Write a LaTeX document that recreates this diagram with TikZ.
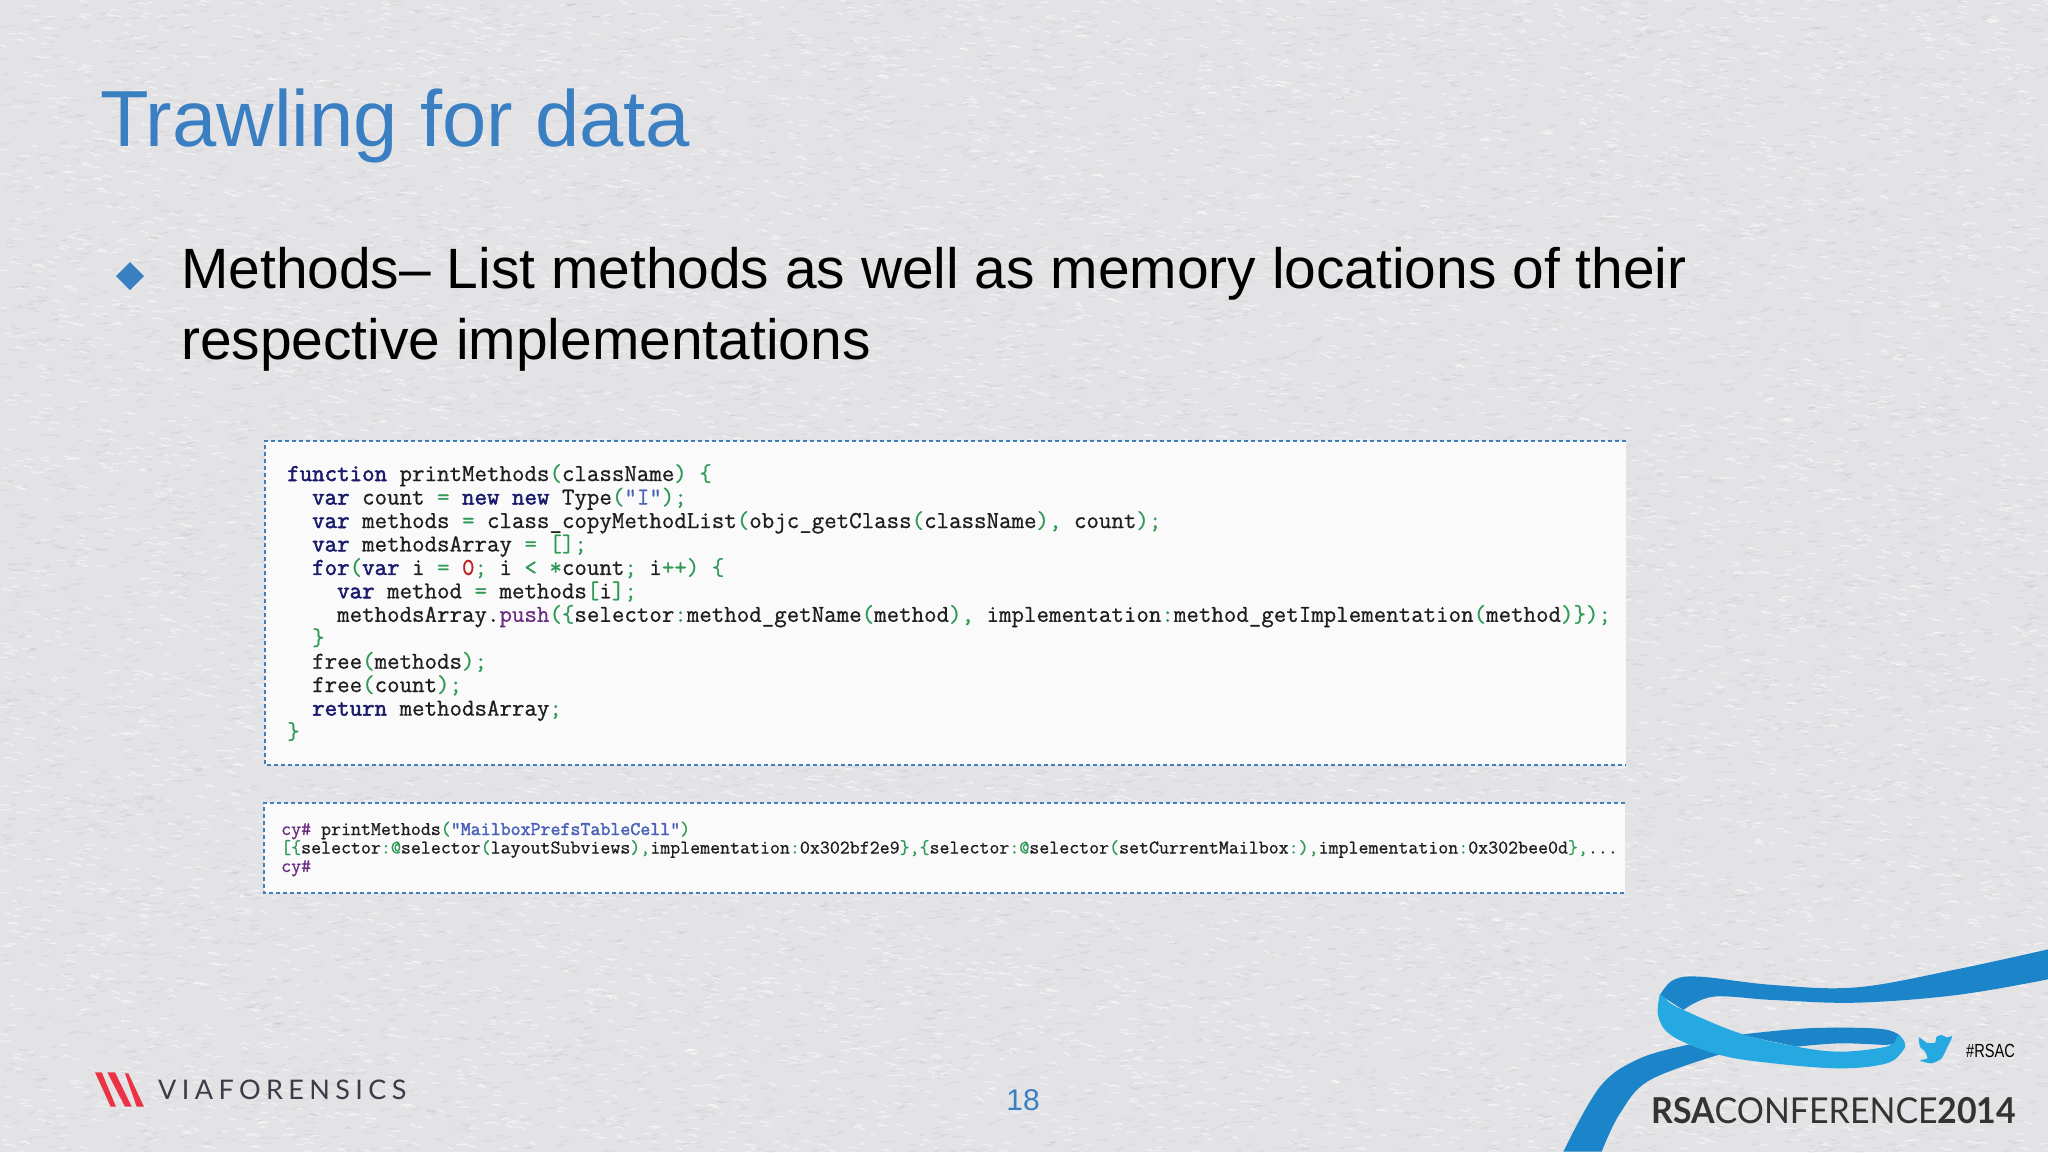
\documentclass[tikz,border=0pt]{standalone}
\usepackage{fontspec}
\setmainfont{Liberation Sans}
\newfontfamily\coderm{Latin Modern Mono}[FakeBold=0.8]
\newfontfamily\codebf{Latin Modern Mono}[FakeBold=2.0]
\newfontfamily\lato{Lato}
\newfontfamily\latospaced{Lato}[LetterSpace=20]
\definecolor{paper}{HTML}{E3E3E6}
\definecolor{titleblue}{HTML}{3A7FC1}
\definecolor{dashblue}{HTML}{3F7FBC}
\definecolor{boxfill}{HTML}{FBFAFB}
\definecolor{ribdark}{HTML}{1C84C8}
\definecolor{riblight}{HTML}{25A9E0}
\definecolor{kwcol}{HTML}{1B1B6B}
\definecolor{idcol}{HTML}{1E1E1E}
\definecolor{grn}{HTML}{2E9A55}
\definecolor{strcol}{HTML}{4A62B8}
\definecolor{purp}{HTML}{6A2A80}
\definecolor{numcol}{HTML}{C02020}
\definecolor{logored}{HTML}{EC3344}
\definecolor{logogray}{HTML}{3A3D48}
\newcommand{\K}[1]{{\codebf\color{kwcol}#1}}
\newcommand{\G}[1]{{\color{grn}#1}}
\newcommand{\Q}[1]{{\color{strcol}#1}}
\newcommand{\Pu}[1]{{\color{purp}#1}}
\newcommand{\Nn}[1]{{\color{numcol}#1}}
\tikzset{
  x=1pt,y=-1pt,
  codebig/.style={anchor=base west,inner sep=0pt,text=idcol,font=\coderm\fontsize{24.25}{24}\selectfont},
  codesmall/.style={anchor=base west,inner sep=0pt,text=idcol,font=\coderm\fontsize{19.37}{20}\selectfont},
  codebox/.style={fill=boxfill,draw=none},
  dashline/.style={draw=dashblue,line width=1.4pt,dash pattern=on 4pt off 3pt},
  bodytext/.style={anchor=base west,inner sep=0pt,text=black,font=\fontsize{56.9}{60}\selectfont},
}
\begin{document}
\begin{tikzpicture}
\useasboundingbox (0,0) rectangle (2048,1152);
\fill[paper] (0,0) rectangle (2048,1152);
% paper grain
\pgfmathsetseed{7}
\begin{scope}
\clip (0,0) rectangle (2048,1152);
\foreach \j in {1,...,20}{
\draw[white,opacity=.45,line width=1.3pt,line cap=round]
  \foreach \i in {1,...,500}{ ({rnd*2048},{rnd*1152}) .. controls +(2,-2) and +(4,1) .. +({3+rnd*5},{(rnd-.5)*3}) };
\draw[black!60,opacity=.07,line width=1.3pt,line cap=round]
  \foreach \i in {1,...,500}{ ({rnd*2048},{rnd*1152}) .. controls +(2,2) and +(4,-1) .. +({3+rnd*5},{(rnd-.5)*3}) };
}
\end{scope}

% title and bullet
\node[anchor=base west,inner sep=0pt,text=titleblue,font=\fontsize{79.6}{80}\selectfont] (title) at (100,146) {Trawling for data};
\fill[titleblue] (116,276) -- (130,262) -- (144,276) -- (130,290) -- cycle;
\node[bodytext] (bodya) at (181,288) {Methods– List methods as well as memory locations of their};
\node[bodytext] (bodyb) at (181,359) {respective implementations};

% first code box
\fill[codebox] (265,441) rectangle (1626,765);
\draw[dashline] (1626,441) -- (265,441) -- (265,765) -- (1626,765);
\node[codebig] (a1) at (287,481) {\K{function} printMethods\G{(}className\G{)} \G{\{}};
\node[codebig] (a2) at (287,504.5) {\ \ \K{var} count \G{=} \K{new} \K{new} Type\G{(}\Q{"I"}\G{);}};
\node[codebig] (a3) at (287,528) {\ \ \K{var} methods \G{=} class\_copyMethodList\G{(}objc\_getClass\G{(}className\G{),} count\G{);}};
\node[codebig] (a4) at (287,551.4) {\ \ \K{var} methodsArray \G{=} \G{[];}};
\node[codebig] (a5) at (287,574.9) {\ \ \K{for}\G{(}\K{var} i \G{=} \Nn{0}\G{;} i \G{<} \G{*}count\G{;} i\G{++)} \G{\{}};
\node[codebig] (a6) at (287,598.3) {\ \ \ \ \K{var} method \G{=} methods\G{[}i\G{];}};
\node[codebig] (a7) at (287,621.8) {\ \ \ \ methodsArray.\Pu{push}\G{(\{}selector\G{:}method\_getName\G{(}method\G{),} implementation\G{:}method\_getImplementation\G{(}method\G{)\});}};
\node[codebig] (a8) at (287,645.2) {\ \ \G{\}}};
\node[codebig] (a9) at (287,668.7) {\ \ free\G{(}methods\G{);}};
\node[codebig] (a10) at (287,692.1) {\ \ free\G{(}count\G{);}};
\node[codebig] (a11) at (287,715.6) {\ \ \K{return} methodsArray\G{;}};
\node[codebig] (a12) at (287,739) {\G{\}}};

% second code box
\fill[codebox] (264,803) rectangle (1625,893);
\draw[dashline] (1625,803) -- (264,803) -- (264,893) -- (1625,893);
\node[codesmall] (b1) at (281,835) {\Pu{cy\#} printMethods\G{(}{\codebf\color{strcol}"MailboxPrefsTableCell"}\G{)}};
\node[codesmall] (b2) at (281,853.5) {\G{[\{}selector\G{:@}selector\G{(}layoutSubviews\G{),}implementation\G{:}0x302bf2e9\G{\},\{}selector\G{:@}selector\G{(}setCurrentMailbox\G{:),}implementation\G{:}0x302bee0d\G{\},}...};
\node[codesmall] (b3) at (281,872) {\Pu{cy\#}};

% footer
\fill[logored] (95,1072.3) -- (101.7,1072.3) -- (116,1106.7) -- (110.7,1106.7) -- cycle;
\fill[logored] (107.3,1072.3) -- (115,1072.3) -- (131.7,1106.7) -- (125,1106.7) -- cycle;
\fill[logored] (125,1073.3) -- (128.3,1073.3) -- (144,1106.7) -- (136.7,1106.7) -- cycle;
\node[anchor=base west,inner sep=0pt,text=logogray,font=\latospaced\fontsize{27}{28}\selectfont] (via) at (158,1099) {VIAFORENSICS};
\node[anchor=base,inner sep=0pt,text=titleblue,font=\fontsize{30}{30}\selectfont] (page) at (1023,1110) {18};

% ribbon
\begin{scope}[shift={(1540,930)},x=0.33333pt,y=-0.33333pt]
\fill[ribdark] plot[smooth,tension=.6] coordinates {(455,342) (300,385) (180,470) (70,665)} -- plot[smooth,tension=.6] coordinates {(185,665) (240,550) (330,450) (550,370)} -- cycle;
\fill[ribdark] plot[smooth,tension=.6] coordinates {(600,314) (800,295) (1000,295) (1070,310) (1090,340)} -- plot[smooth,tension=.6] coordinates {(1035,345) (900,340) (770,350)} -- cycle;
\fill[ribdark] plot[smooth,tension=.6] coordinates {(1524,58) (1240,120) (950,172) (700,165) (480,140) (400,150) (360,195)} -- plot[smooth,tension=.6] coordinates {(430,240) (520,200) (700,210) (950,218) (1250,195) (1524,148)} -- cycle;
\fill[riblight] plot[smooth,tension=.6] coordinates {(360,190) (355,260) (400,320) (540,375) (700,400) (900,415) (1040,400) (1090,360) (1093,335) (1075,312)} -- plot[smooth,tension=.6] coordinates {(1065,335) (1030,352) (900,365) (770,350) (600,310) (430,240) (385,215)} -- cycle;
% bird
\fill[riblight,line join=round] plot[smooth,tension=.35] coordinates {(1236,318) (1220,322) (1205,315) (1190,320) (1185,338) (1160,338) (1137,322) (1140,350) (1155,365) (1162,385) (1140,392) (1175,400) (1205,385) (1225,345) (1234,328)} -- cycle;
\end{scope}
\node[anchor=base west,inner sep=0pt,text=black,font=\fontsize{19}{19}\selectfont] (tag) at (1966,1057) {\scalebox{0.77}[1]{\#RSAC}};
\node[anchor=base west,inner sep=0pt,text=black!80,font=\lato\fontsize{35.7}{36}\selectfont] (conf) at (1651,1123) {\scalebox{0.95}[1]{{\bfseries RSA}CONFERENCE{\bfseries 2014}}};
\end{tikzpicture}
\end{document}
